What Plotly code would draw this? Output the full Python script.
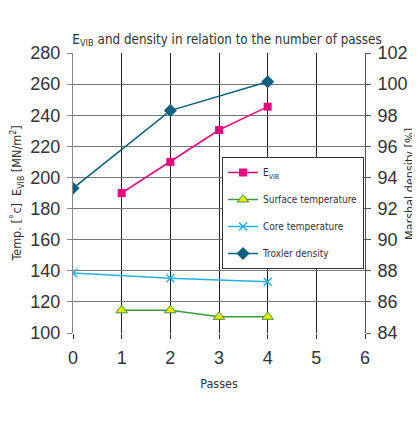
import plotly.graph_objects as go

passes_evib = [1, 2, 3, 4]
evib = [190, 210, 230.5, 245.5]
passes_surface = [1, 2, 3, 4]
surface_temp = [114.6, 114.6, 110.4, 110.4]
passes_core = [0, 2, 4]
core_temp = [138.5, 135.2, 132.9]
passes_troxler = [0, 2, 4]
troxler_density = [93.3, 98.3, 100.15]

left_ticks = [100, 120, 140, 160, 180, 200, 220, 240, 260, 280]
right_ticks = [84, 86, 88, 90, 92, 94, 96, 98, 100, 102]
x_ticks = [0, 1, 2, 3, 4, 5, 6]

NARROW = "Liberation Sans Narrow, DejaVu Sans Condensed, Arial Narrow, sans-serif"
REG = "Liberation Sans, Arial, Helvetica, sans-serif"

fig = go.Figure()
fig.add_trace(go.Scatter(
    x=passes_evib, y=evib, name="E<sub>VIB</sub>", mode="lines+markers",
    line=dict(color="#e5097f", width=1.5),
    marker=dict(symbol="square", size=8, color="#e5097f"),
    legendgroup="a"))
fig.add_trace(go.Scatter(
    x=passes_surface, y=surface_temp, name="Surface temperature", mode="lines+markers",
    line=dict(color="#3c9a3c", width=1.5),
    marker=dict(symbol="triangle-up", size=10, color="#f2e600",
                line=dict(color="#3c9a3c", width=1)),
    legendgroup="b"))
fig.add_trace(go.Scatter(
    x=passes_core, y=core_temp, name="Core temperature", mode="lines+markers",
    line=dict(color="#22b1e6", width=1.5),
    marker=dict(symbol="x-thin", size=8, color="#22b1e6",
                line=dict(color="#22b1e6", width=1.5)),
    legendgroup="c"))
fig.add_trace(go.Scatter(
    x=passes_troxler, y=troxler_density, name="Troxler density", mode="lines+markers",
    line=dict(color="#0b5f80", width=1.5),
    marker=dict(symbol="diamond", size=10, color="#0b5f80"),
    yaxis="y2", legendgroup="d"))

# the page places the figure 8 px from the window's top-left corner
OFF = 8
L, T = 73 - OFF, 53 - OFF
W, H = 420, 425
pw, ph = 292, 280
R, B = W - L - pw, H - T - ph

def px(x):
    return (x - OFF - L) / pw

def py(y):
    return (H - B - (y - OFF)) / ph

fig.update_layout(
    width=W, height=H,
    margin=dict(l=L, r=R, t=T, b=B, autoexpand=False),
    paper_bgcolor="white", plot_bgcolor="white",
    title=dict(text="E<sub>VIB</sub> and density in relation to the number of passes",
               x=px(227), xref="paper", xanchor="center",
               y=1 - (39 - OFF) / H, yref="container", yanchor="middle",
               font=dict(family=NARROW, size=13.3, color="#333333")),
    xaxis=dict(range=[0, 6], tickvals=x_ticks, showgrid=True, gridcolor="#222222", gridwidth=1,
               zeroline=False, showline=False, ticks="outside", ticklen=5, tickcolor="#333333",
               automargin=False, ticklabelstandoff=3,
               tickfont=dict(family=REG, size=18, color="#333333"),
               title=dict(text="Passes", font=dict(family=NARROW, size=12.5, color="#333333"), standoff=12)),
    yaxis=dict(range=[100, 280], tickvals=left_ticks, showgrid=True, gridcolor="#777777", gridwidth=1,
               zeroline=False, showline=True, linecolor="#888888", ticks="outside", ticklen=5,
               tickcolor="#888888", ticklabelstandoff=3, automargin=False,
               tickfont=dict(family=REG, size=18, color="#333333"),
               title=dict(text="Temp. [˚c]  E<sub>VIB</sub> [MN/m<sup>2</sup>]",
                          font=dict(family=NARROW, size=12.5, color="#333333"), standoff=8)),
    yaxis2=dict(range=[84, 102], tickvals=right_ticks, overlaying="y", side="right",
                showgrid=False, zeroline=False, showline=True, linecolor="#555555",
                ticks="outside", ticklen=5, tickcolor="#555555", ticklabelstandoff=3,
                automargin=False,
                tickfont=dict(family=REG, size=18, color="#333333")),
    annotations=[dict(text="Marshal density [%]", textangle=-90, showarrow=False,
                      xref="paper", yref="paper", x=px(409), y=py(184),
                      xanchor="center", yanchor="middle",
                      font=dict(family=NARROW, size=12.5, color="#333333"))],
    legend=dict(x=px(222), y=py(157), xanchor="left", yanchor="top",
                bgcolor="white", bordercolor="#333333", borderwidth=1,
                font=dict(family=NARROW, size=10, color="#333333"),
                traceorder="grouped", tracegroupgap=8),
    showlegend=True,
)

fig.write_html("out.html")
